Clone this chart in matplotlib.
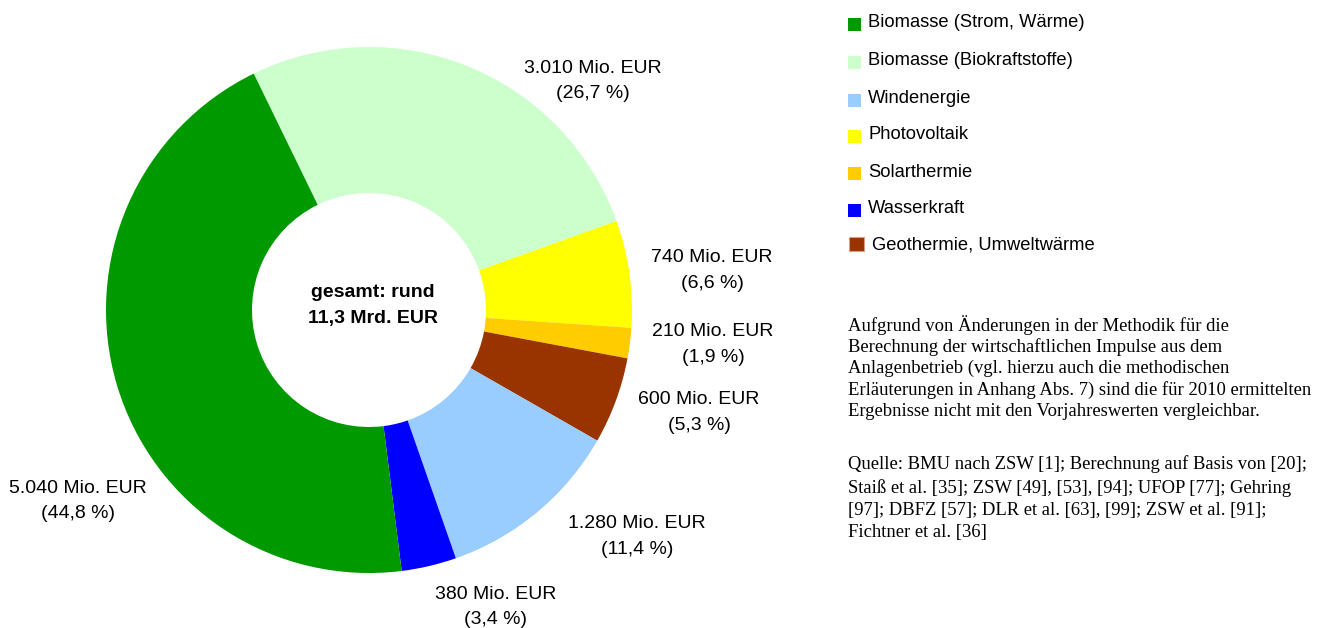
import matplotlib
matplotlib.use("Agg")
import matplotlib.pyplot as plt
from matplotlib.patches import Rectangle

# ---------------- data ----------------
categories = ["Biomasse (Strom, Wärme)", "Biomasse (Biokraftstoffe)", "Windenergie",
              "Photovoltaik", "Solarthermie", "Wasserkraft", "Geothermie, Umweltwärme"]
values_mio_eur = [5040, 3010, 1280, 740, 210, 380, 600]
shares_pct = [44.8, 26.7, 11.4, 6.6, 1.9, 3.4, 5.3]
colors = ["#009900", "#CCFFCC", "#99CCFF", "#FFFF00", "#FFCC00", "#0000FF", "#993300"]
# order of the slices clockwise, starting with Biokraftstoffe
pie_order = [1, 3, 4, 6, 2, 5, 0]

center_text = ["gesamt: rund", "11,3 Mrd. EUR"]
note_lines = [
    "Aufgrund von Änderungen in der Methodik für die",
    "Berechnung der wirtschaftlichen Impulse aus dem",
    "Anlagenbetrieb (vgl. hierzu auch die methodischen",
    "Erläuterungen in Anhang Abs. 7) sind die für 2010 ermittelten",
    "Ergebnisse nicht mit den Vorjahreswerten vergleichbar.",
]
source_lines = [
    "Quelle: BMU nach ZSW [1]; Berechnung auf Basis von [20];",
    "Staiß et al. [35]; ZSW [49], [53], [94]; UFOP [77]; Gehring",
    "[97]; DBFZ [57]; DLR et al. [63], [99]; ZSW et al. [91];",
    "Fichtner et al. [36]",
]

# ---------------- layout (pixel coordinates, y downwards) ----------------
W, H = 1326, 628
CX, CY, R, RING = 369, 310, 263, 146
SANS = ["Liberation Sans", "DejaVu Sans"]
SERIF = ["Liberation Serif", "DejaVu Serif"]

# label anchor (x centre, baseline of first line) per category index
label_xy = {1: (593, 73), 3: (712, 262), 4: (713, 336), 6: (699, 404),
            2: (637, 528), 5: (496, 599), 0: (78, 493)}
label_pitch = 25.5

legend_baselines = [27.3, 65, 103.3, 139.3, 176.7, 213.3, 250]
note_baselines = [330.7, 351.7, 373.3, 395, 416]
source_baselines = [469.3, 492.7, 515, 536.7]

fig = plt.figure(figsize=(W / 100, H / 100), dpi=100)
fig.patch.set_facecolor("white")
ax = fig.add_axes([0, 0, 1, 1])

vals = [values_mio_eur[i] for i in pie_order]
cols = [colors[i] for i in pie_order]
# y axis is inverted: counterclock in data == clockwise on screen
ax.pie(vals, colors=cols, startangle=-116, counterclock=True,
       center=(CX, CY), radius=R, frame=True,
       wedgeprops=dict(width=RING, linewidth=0, edgecolor="none", antialiased=True))
ax.set_xlim(0, W)
ax.set_ylim(H, 0)
ax.set_aspect("equal")
ax.axis("off")

def fmt_val(v):
    return f"{v:,}".replace(",", ".") + " Mio. EUR"

def fmt_pct(p):
    return "(" + f"{p:.1f}".replace(".", ",") + " %)"

for i in pie_order:
    x, y = label_xy[i]
    ax.text(x, y, fmt_val(values_mio_eur[i]), ha="center", va="baseline",
            fontsize=14, family=SANS, color="black")
    ax.text(x, y + label_pitch, fmt_pct(shares_pct[i]), ha="center", va="baseline",
            fontsize=14, family=SANS, color="black")

# centre text
ax.text(373, 297, center_text[0], ha="center", va="baseline", fontsize=14,
        fontweight="bold", family=SANS)
ax.text(373, 322.7, center_text[1], ha="center", va="baseline", fontsize=14,
        fontweight="bold", family=SANS)

# legend
for k, (name, col, yb) in enumerate(zip(categories, colors, legend_baselines)):
    if k == len(categories) - 1:
        ax.add_patch(Rectangle((849, yb - 13), 15, 14, facecolor=col,
                               edgecolor="#D9A080", linewidth=0.8))
        tx = 872
    else:
        ax.add_patch(Rectangle((848, yb - 9.5), 13, 13, facecolor=col, edgecolor="none"))
        tx = 868
    ax.text(tx, yb, name, ha="left", va="baseline", fontsize=13.2, family=SANS)

for line, yb in zip(note_lines, note_baselines):
    ax.text(848, yb, line, ha="left", va="baseline", fontsize=13.45, family=SERIF)
for line, yb in zip(source_lines, source_baselines):
    ax.text(848, yb, line, ha="left", va="baseline", fontsize=13.45, family=SERIF)

fig.savefig("out.png", dpi=100, facecolor="white")
